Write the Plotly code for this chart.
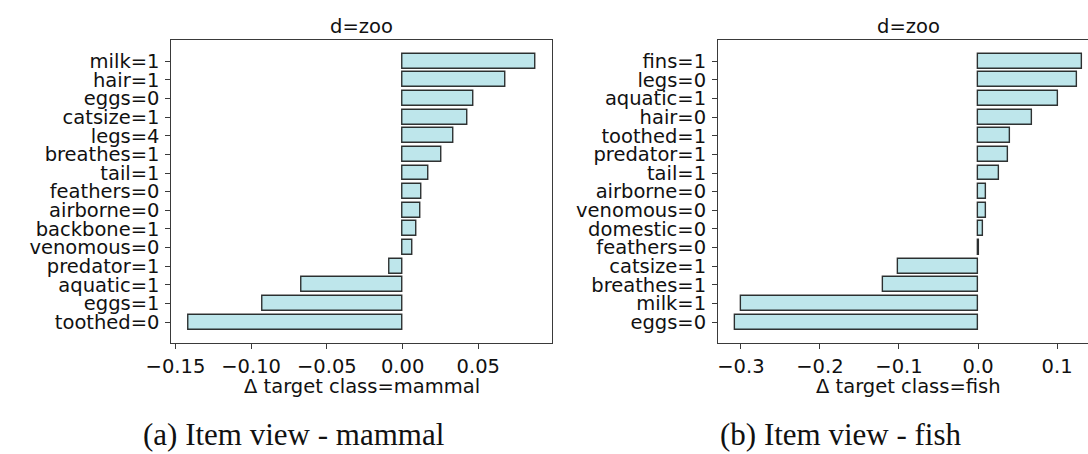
import plotly.graph_objects as go

# ---------------- data ----------------
mammal_features = ["milk=1", "hair=1", "eggs=0", "catsize=1", "legs=4", "breathes=1",
                   "tail=1", "feathers=0", "airborne=0", "backbone=1", "venomous=0",
                   "predator=1", "aquatic=1", "eggs=1", "toothed=0"]
mammal_values = [0.0875, 0.0676, 0.0467, 0.0430, 0.0338, 0.0255,
                 0.0172, 0.0122, 0.0115, 0.0092, 0.0067,
                 -0.0089, -0.0671, -0.0923, -0.1412]

fish_features = ["fins=1", "legs=0", "aquatic=1", "hair=0", "toothed=1", "predator=1",
                 "tail=1", "airborne=0", "venomous=0", "domestic=0", "feathers=0",
                 "catsize=1", "breathes=1", "milk=1", "eggs=0"]
fish_values = [0.1313, 0.1256, 0.1016, 0.0680, 0.0405, 0.0377,
               0.0260, 0.0098, 0.0098, 0.0064, 0.0012,
               -0.1016, -0.1207, -0.2995, -0.3070]

mammal_ticks = [-0.15, -0.10, -0.05, 0.00, 0.05]
mammal_ticktext = ["\u22120.15", "\u22120.10", "\u22120.05", "0.00", "0.05"]
fish_ticks = [-0.3, -0.2, -0.1, 0.0, 0.1]
fish_ticktext = ["\u22120.3", "\u22120.2", "\u22120.1", "0.0", "0.1"]

panel_title = "d=zoo"
mammal_xlabel = "\u0394 target class=mammal"
fish_xlabel = "\u0394 target class=fish"
captions = ["(a) Item view - mammal", "(b) Item view - fish"]

# ---------------- style ----------------
W, H = 1088, 454
FILL = "rgba(176,224,230,0.82)"
EDGE = "rgba(0,0,0,0.8)"
SPINE = "#3a3a3a"
FONT = "DejaVu Sans"
FS = 19.5

def px_x(p):
    return p / W

def px_y(p):
    return 1 - p / H

fig = go.Figure()
fig.add_trace(go.Bar(x=mammal_values, y=mammal_features, orientation="h",
                     marker=dict(color=FILL, line=dict(color=EDGE, width=1.4)),
                     width=0.8, xaxis="x", yaxis="y", showlegend=False))
fig.add_trace(go.Bar(x=fish_values, y=fish_features, orientation="h",
                     marker=dict(color=FILL, line=dict(color=EDGE, width=1.4)),
                     width=0.8, xaxis="x2", yaxis="y2", showlegend=False))

n = len(mammal_features)
yr = [n - 1 + 1.14, -1.14]

def mmargin(vals):
    lo, hi = min(vals), max(vals)
    m = 0.05 * (hi - lo)
    return lo - m, hi + m

mlo, mhi = mmargin(mammal_values)
flo, fhi = mmargin(fish_values)

# left panel spans 149..539 px; right panel 709..(clipped at 1088)
top_px, bot_px = 40, 343.3
ydom = [px_y(bot_px), px_y(top_px)]
left_dom = [px_x(149), px_x(539.3)]
r0 = 709.0
r_full = 1099.4
right_dom = [px_x(r0), 1.0]
# right axis visible part ends at window edge
f_vis_hi = flo + (fhi - flo) * (W - r0) / (r_full - r0)

axis_common = dict(showline=True, linecolor=SPINE, linewidth=1.1, ticks="outside",
                   ticklen=5, tickwidth=1.1, tickcolor=SPINE, showgrid=False,
                   zeroline=False, tickfont=dict(family=FONT, size=FS, color="#111"))

fig.update_layout(
    width=W, height=H, margin=dict(l=0, r=0, t=0, b=0),
    paper_bgcolor="white", plot_bgcolor="white", bargap=0,
    xaxis=dict(domain=left_dom, range=[mlo, mhi], tickmode="array", tickvals=mammal_ticks,
               ticktext=mammal_ticktext, mirror=True, anchor="y", **axis_common),
    yaxis=dict(domain=ydom, range=yr, type="category", categoryorder="array",
               categoryarray=mammal_features, tickmode="array",
               tickvals=mammal_features, ticktext=mammal_features,
               mirror=True, anchor="x", ticklabelstandoff=2, **axis_common),
    xaxis2=dict(domain=right_dom, range=[flo, f_vis_hi], tickmode="array", tickvals=fish_ticks,
                ticktext=fish_ticktext, mirror=True, anchor="y2", **axis_common),
    yaxis2=dict(domain=ydom, range=yr, type="category", categoryorder="array",
                categoryarray=fish_features, tickmode="array",
                tickvals=fish_features, ticktext=fish_features,
                mirror=False, anchor="x2", ticklabelstandoff=2, **axis_common),
)

ann = []
lc = (149 + 539.3) / 2
rc = (r0 + r_full) / 2
for cx, lab in [(lc, mammal_xlabel), (rc, fish_xlabel)]:
    ann.append(dict(x=px_x(cx), y=px_y(26), xref="paper", yref="paper", text=panel_title,
                    showarrow=False, xanchor="center", yanchor="middle",
                    font=dict(family=FONT, size=FS, color="#111")))
    ann.append(dict(x=px_x(cx), y=px_y(386), xref="paper", yref="paper", text=lab,
                    showarrow=False, xanchor="center", yanchor="middle",
                    font=dict(family=FONT, size=FS, color="#111")))
for cx, cap in [(274.3, captions[0]), (835, captions[1])]:
    ann.append(dict(x=px_x(cx), y=0, xref="paper", yref="paper", text=cap,
                    showarrow=False, xanchor="center", yanchor="bottom",
                    font=dict(family="Liberation Serif", size=31, color="#111")))
fig.update_layout(annotations=ann)

fig.write_html("out.html")
